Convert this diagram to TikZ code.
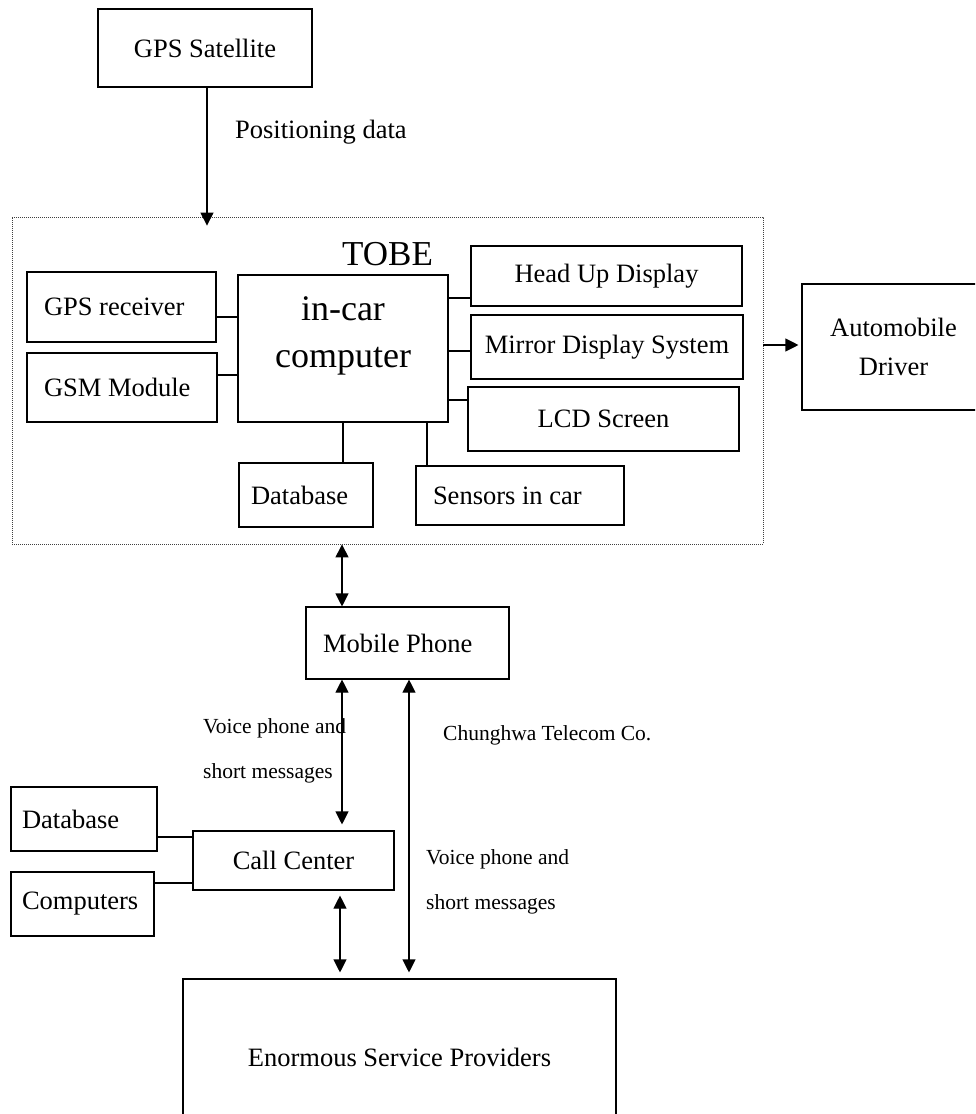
\documentclass[tikz,border=0pt]{standalone}
\usepackage{fontspec}
\setmainfont{Liberation Serif}
\usetikzlibrary{arrows.meta}
\begin{document}
\begin{tikzpicture}[x=1pt,y=-1pt,
  box/.style={draw, line width=1.1pt, inner sep=0pt, align=center,
    font=\fontsize{26.5}{39}\selectfont},
  lbox/.style 2 args={box, text width=#1, align=flush left, inner xsep=#2},
  lbl/.style={inner sep=0pt, align=flush left, font=\fontsize{21.5}{45}\selectfont},
  conn/.style={line width=1.1pt},
  arr/.style={line width=1.1pt, -{Triangle[length=13pt,width=13pt]}},
  darr/.style={line width=1.1pt, {Triangle[length=13pt,width=13pt]}-{Triangle[length=13pt,width=13pt]}},
  dotbox/.style={draw=black!75, line width=0.8pt, dash pattern=on 0.8pt off 1.2pt, inner sep=0pt},
]
\useasboundingbox (0,0) rectangle (975,1114);
\begin{scope}
\clip (0,0) rectangle (975,1114);

% top
\node[box, minimum width=214pt, minimum height=78pt] (sat) at (205,48) {GPS Satellite};
\node[inner sep=0pt, anchor=base west, font=\fontsize{26.5}{30}\selectfont] (pos) at (235,138) {Positioning data};

% TOBE container
\node[dotbox, minimum width=751pt, minimum height=327pt] (tobe) at (387.5,380.5) {};
\node[inner sep=0pt, anchor=base west, font=\fontsize{35}{40}\selectfont] (tobet) at (342,265) {TOBE};

\node[box, minimum width=210pt, minimum height=147pt] (incar) at (343,348.5) {};
\node[inner sep=0pt, align=center, font=\fontsize{36}{47}\selectfont] (incart) at (343,336) {in-car\\computer};

\node[lbox={155pt}{17pt}, minimum height=70pt] (gpsr) at (121.5,307) {GPS receiver};
\node[lbox={156pt}{17pt}, minimum height=69pt] (gsm) at (122,387.5) {GSM Module};
\node[lbox={110pt}{12pt}, minimum height=64pt] (db1) at (306,495) {Database};
\node[lbox={174pt}{17pt}, minimum height=59pt] (sens) at (520,495.5) {Sensors in car};

\node[box, minimum width=271pt, minimum height=60pt] (hud) at (606.5,276) {Head Up Display};
\node[box, minimum width=272pt, minimum height=64pt] (mds) at (607,347) {Mirror Display System};
\node[box, minimum width=271pt, minimum height=64pt] (lcd) at (603.5,419) {LCD Screen};

\node[box, minimum width=183pt, minimum height=126pt] (drv) at (893.5,347) {Automobile\\Driver};

% lower part
\node[lbox={169pt}{17pt}, minimum height=72pt] (mob) at (407.5,643) {Mobile Phone};
\node[box, minimum width=201pt, minimum height=59pt] (cc) at (293.5,860.5) {Call Center};
\node[lbox={124pt}{11pt}, minimum height=64pt] (db2) at (84,819) {Database};
\node[lbox={121pt}{11pt}, minimum height=64pt] (comp) at (82.5,904) {Computers};
\node[box, minimum width=433pt, minimum height=156pt] (esp) at (399.5,1057) {Enormous Service Providers};

\node[lbl, anchor=west] (vp1) at (203,750.5) {Voice phone and\\short messages};
\node[lbl, anchor=base west] (cht) at (443,740) {Chunghwa Telecom Co.};
\node[lbl, anchor=west] (vp2) at (426,882) {Voice phone and\\short messages};

% connectors
\draw[arr, shorten >=-9pt] (207,0 |- sat.south) -- (207,0 |- tobe.north);
\draw[conn] (gpsr.east |- 0,317) -- (incar.west |- 0,317);
\draw[conn] (gsm.east |- 0,375) -- (incar.west |- 0,375);
\draw[conn] (incar.south) -- (incar.south |- db1.north);
\draw[conn] (427,0 |- incar.south) -- (427,0 |- sens.north);
\draw[conn] (incar.east |- 0,298) -- (hud.west |- 0,298);
\draw[conn] (incar.east |- 0,351) -- (mds.west |- 0,351);
\draw[conn] (incar.east |- 0,400) -- (lcd.west |- 0,400);
\draw[arr, shorten >=3pt] (tobe.east |- 0,345) -- (drv.west |- 0,345);

\draw[darr] (342,0 |- tobe.south) -- (342,0 |- mob.north);
\draw[darr, shorten >=6pt] (342,0 |- mob.south) -- (342,0 |- cc.north);
\draw[darr, shorten >=6pt] (409,0 |- mob.south) -- (409,0 |- esp.north);
\draw[darr, shorten <=5pt, shorten >=6pt] (340,0 |- cc.south) -- (340,0 |- esp.north);
\draw[conn] (db2.east |- 0,837) -- (cc.west |- 0,837);
\draw[conn] (comp.east |- 0,883) -- (cc.west |- 0,883);
\end{scope}
\end{tikzpicture}
\end{document}
